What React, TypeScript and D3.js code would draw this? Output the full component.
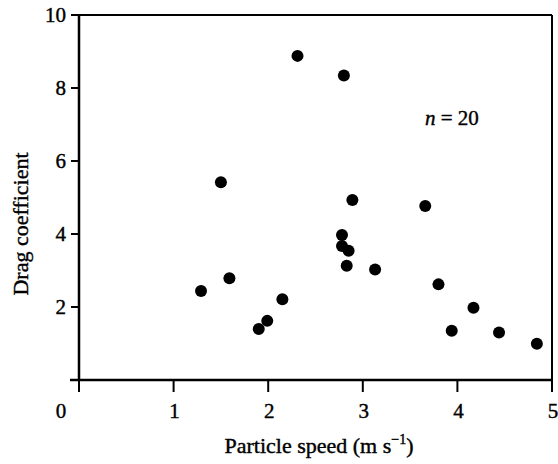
import React from "react";
import * as d3 from "d3";

const speed = [2.31, 2.8, 1.5, 2.89, 2.78, 2.78, 2.85, 2.83, 3.13, 1.59, 1.29, 2.15, 1.99, 1.9, 3.66, 3.8, 4.17, 3.94, 4.44, 4.84];
const drag = [8.88, 8.34, 5.42, 4.93, 3.97, 3.67, 3.54, 3.13, 3.03, 2.79, 2.44, 2.21, 1.62, 1.4, 4.77, 2.62, 1.98, 1.35, 1.3, 0.99];
const xTicks = [0, 1, 2, 3, 4, 5];
const yTicks = [2, 4, 6, 8, 10];

export default function App() {
  const W = 558, H = 464;
  const x = d3.scaleLinear().domain([0, 5]).range([79, 552]);
  const y = d3.scaleLinear().domain([0, 10]).range([380, 15]);
  const ts: React.CSSProperties = { fontFamily: "Liberation Serif" };
  const stroke = "#000";
  const tx = { stroke: "#000", strokeWidth: 0.4 };
  return (
    <svg width={W} height={H} style={{ position: "absolute", left: 0, top: 0 }}>
      <rect width={W} height={H} fill="#fff" />
      <line x1={x(0)} x2={x(0)} y1={y(10) - 1} y2={y(0) + 1} stroke={stroke} strokeWidth={2.5} />
      <line x1={x(0) - 9} x2={x(5)} y1={y(0)} y2={y(0)} stroke={stroke} strokeWidth={2.5} />
      <line x1={x(0) - 8} x2={x(5)} y1={y(10)} y2={y(10)} stroke={stroke} strokeWidth={2} />
      <line x1={x(5)} x2={x(5)} y1={y(10)} y2={y(0) + 12} stroke={stroke} strokeWidth={2} />
      {xTicks.map((t) => (
        <g key={"x" + t}>
          <line x1={x(t)} x2={x(t)} y1={y(0)} y2={y(0) + 12} stroke={stroke} strokeWidth={2} />
          <text style={ts} {...tx} x={t === 0 ? 61 : x(t) + 1} y={418} textAnchor="middle" fontSize={21}>{t}</text>
        </g>
      ))}
      {yTicks.map((t) => (
        <g key={"y" + t}>
          <line x1={x(0) - 8} x2={x(0)} y1={y(t)} y2={y(t)} stroke={stroke} strokeWidth={2} />
          <text style={ts} {...tx} x={66} y={y(t) + 7} textAnchor="end" fontSize={21}>{t}</text>
        </g>
      ))}
      {speed.map((s, i) => (
        <circle key={i} cx={x(s)} cy={y(drag[i])} r={6} fill="#000" />
      ))}
      <text style={ts} {...tx} x={425} y={125} fontSize={21}>
        <tspan fontStyle="italic">n</tspan> = 20
      </text>
      <text style={ts} {...tx} x={319} y={453} textAnchor="middle" fontSize={22}>
        Particle speed (m s<tspan dy={-9} fontSize={14}>−1</tspan><tspan dy={9}>)</tspan>
      </text>
      <text style={ts} {...tx} transform={`translate(28, 224) rotate(-90)`} textAnchor="middle" fontSize={22}>
        Drag coefficient
      </text>
    </svg>
  );
}
